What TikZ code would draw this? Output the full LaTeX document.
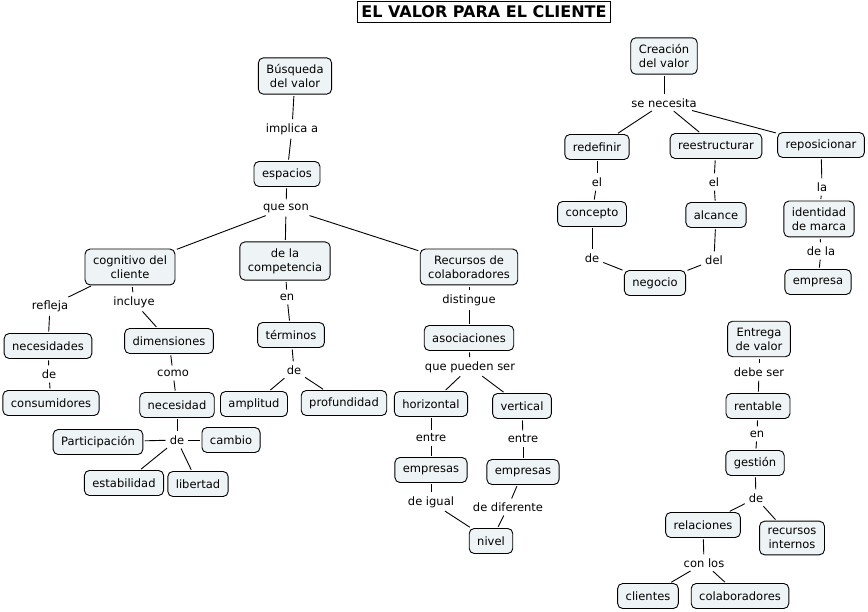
\documentclass[tikz,border=0pt]{standalone}
\usepackage{fontspec}
\setmainfont{DejaVu Sans}
\usepackage{tikz}
\usetikzlibrary{positioning}
\definecolor{cmapfill}{RGB}{238,243,246}

\tikzset{
  concept/.style={draw=black, line width=0.9pt, rounded corners=5pt, fill=cmapfill,
    align=center, inner xsep=8pt, inner ysep=6.5pt, minimum height=25pt,
    font=\fontsize{11.5}{14}\selectfont},
  linkword/.style={inner sep=2.5pt, align=center, font=\fontsize{11.5}{14}\selectfont},
  conn/.style={line width=0.9pt, shorten <=1.5pt, shorten >=1.5pt}
}

\begin{document}
\begin{tikzpicture}[x=1pt, y=-1pt]
  \useasboundingbox (0,0) rectangle (868,612);
  \node[draw, line width=0.8pt, inner xsep=4pt, inner ysep=3pt, minimum height=21pt,
        font=\fontsize{16}{18}\selectfont\bfseries] (title) at (484,12) {EL VALOR PARA EL CLIENTE};

  % busqueda del valor
  \node[concept] (busq) at (295,76) {Búsqueda\\del valor};
  \node[linkword] (implica) at (292,129) {implica a};
  \node[concept] (espacios) at (287,174) {espacios};
  \node[linkword] (queson) at (286,208) {que son};
  \node[concept] (cognitivo) at (130,267) {cognitivo del\\cliente};
  \node[concept] (compet) at (285,261) {de la\\competencia};
  \node[concept] (recursos) at (469,267) {Recursos de\\colaboradores};

  \node[linkword] (refleja) at (50,306) {refleja};
  \node[linkword] (incluye) at (134,302) {incluye};
  \node[concept] (necesidades) at (48,346) {necesidades};
  \node[linkword] (deA) at (49,374) {de};
  \node[concept] (consum) at (51,403) {consumidores};
  \node[concept] (dimens) at (169,341) {dimensiones};
  \node[linkword] (como) at (173,373) {como};
  \node[concept] (necesidad) at (177,405) {necesidad};
  \node[linkword] (deB) at (177,440) {de};
  \node[concept] (particip) at (98,442) {Participación};
  \node[concept] (cambio) at (231,440) {cambio};
  \node[concept] (estab) at (124,483) {estabilidad};
  \node[concept] (libertad) at (198,484) {libertad};

  \node[linkword] (enA) at (287,297) {en};
  \node[concept] (terminos) at (291,335) {términos};
  \node[linkword] (deC) at (294,370) {de};
  \node[concept] (amplitud) at (254,404) {amplitud};
  \node[concept] (profund) at (344,403) {profundidad};

  \node[linkword] (distingue) at (469,300) {distingue};
  \node[concept] (asoc) at (469,338) {asociaciones};
  \node[linkword] (quepueden) at (470,367) {que pueden ser};
  \node[concept] (horiz) at (431,404) {horizontal};
  \node[concept] (vert) at (522,406) {vertical};
  \node[linkword] (entreA) at (431,438) {entre};
  \node[linkword] (entreB) at (523,439) {entre};
  \node[concept] (empA) at (431,470) {empresas};
  \node[concept] (empB) at (523,472) {empresas};
  \node[linkword] (deigual) at (431,502) {de igual};
  \node[linkword] (dedif) at (508,507) {de diferente};
  \node[concept] (nivel) at (491,541) {nivel};

  % creacion del valor
  \node[concept] (creacion) at (664,56) {Creación\\del valor};
  \node[linkword] (senecesita) at (664,103) {se necesita};
  \node[concept] (redef) at (597,147) {redefinir};
  \node[concept] (reestr) at (716,146) {reestructurar};
  \node[concept] (repos) at (821,145) {reposicionar};
  \node[linkword] (elA) at (597,182) {el};
  \node[linkword] (elB) at (714,182) {el};
  \node[linkword] (la) at (822,187) {la};
  \node[concept] (concepto) at (592,214) {concepto};
  \node[concept] (alcance) at (716,215) {alcance};
  \node[concept] (identidad) at (819,219) {identidad\\de marca};
  \node[linkword] (dela) at (821,251) {de la};
  \node[concept] (empresa) at (818,282) {empresa};
  \node[linkword] (deD) at (592,258) {de};
  \node[linkword] (del) at (714,260) {del};
  \node[concept] (negocio) at (655,283) {negocio};

  % entrega de valor
  \node[concept] (entrega) at (759,339) {Entrega\\de valor};
  \node[linkword] (debeser) at (759,372) {debe ser};
  \node[concept] (rentable) at (758,406) {rentable};
  \node[linkword] (enB) at (757,434) {en};
  \node[concept] (gestion) at (755,463) {gestión};
  \node[linkword] (deE) at (756,498) {de};
  \node[concept] (relac) at (703,525) {relaciones};
  \node[concept] (recint) at (792,538) {recursos\\internos};
  \node[linkword] (conlos) at (704,563) {con los};
  \node[concept] (clientes) at (648,596) {clientes};
  \node[concept] (colab) at (740,596) {colaboradores};

  \foreach \a/\b in {busq/implica, implica/espacios, espacios/queson,
      queson/cognitivo, queson/compet, queson/recursos,
      cognitivo/refleja, refleja/necesidades, necesidades/deA, deA/consum,
      cognitivo/incluye, incluye/dimens, dimens/como, como/necesidad,
      necesidad/deB, deB/particip, deB/cambio, deB/estab, deB/libertad,
      compet/enA, enA/terminos, terminos/deC, deC/amplitud, deC/profund,
      recursos/distingue, distingue/asoc, asoc/quepueden,
      quepueden/horiz, quepueden/vert, horiz/entreA, entreA/empA,
      vert/entreB, entreB/empB, empA/deigual, deigual/nivel,
      empB/dedif, dedif/nivel,
      creacion/senecesita, senecesita/redef, senecesita/reestr, senecesita/repos,
      redef/elA, elA/concepto, concepto/deD, deD/negocio,
      reestr/elB, elB/alcance, alcance/del, del/negocio,
      repos/la, la/identidad, identidad/dela, dela/empresa,
      entrega/debeser, debeser/rentable, rentable/enB, enB/gestion,
      gestion/deE, deE/relac, deE/recint, relac/conlos,
      conlos/clientes, conlos/colab}
    \draw[conn] (\a) -- (\b);
\end{tikzpicture}
\end{document}
